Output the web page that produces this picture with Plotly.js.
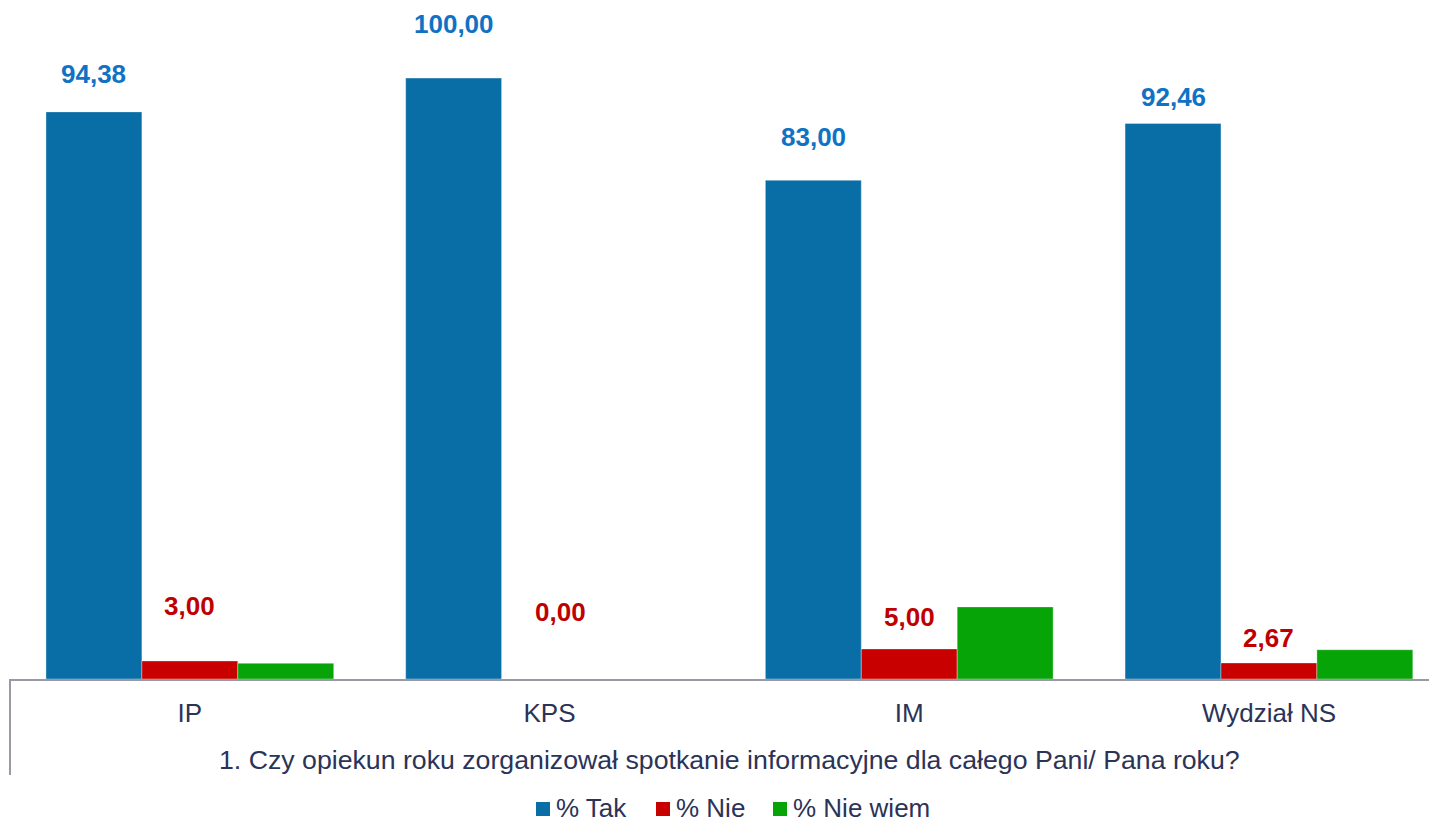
<!DOCTYPE html>
<html>
<head>
<meta charset="utf-8">
<script src="https://cdn.plot.ly/plotly-3.0.1.min.js"></script>
<style>html,body{margin:0;padding:0;background:#fff;}#chart{width:1429px;height:825px;}</style>
</head>
<body>
<div id="chart"></div>
<script>
const categories = ["IP", "KPS", "IM", "Wydział NS"];
const seriesNames = ["% Tak", "% Nie", "% Nie wiem"];
const tak = [94.38, 100.00, 83.00, 92.46];
const nie = [3.00, 0.00, 5.00, 2.67];
const nieWiem = [2.62, 0.00, 12.00, 4.87];
const questionTitle = "1. Czy opiekun roku zorganizował spotkanie informacyjne dla całego Pani/ Pana roku?";

const colors = ["#096ea5", "#c80000", "#06a406"];
const labelColors = ["#1072c4", "#c00000"];
// label vertical offsets (px) above bar top, as placed in the original
const takLabelShift = [38, 54, 43, 26];
const nieLabelShift = [55, 67, 32, 25];

const FONT = "Liberation Sans, Arial, sans-serif";
const textColor = "#2b3357";

// plot area geometry (pixels)
const W = 1429, H = 825, ML = 10, MT = 0, MB = 146;
const PW = W - ML, PH = H - MT - MB;
const px2paperX = p => (p - ML) / PW;
const px2paperY = p => (MT + PH - p) / PH;

const traces = [tak, nie, nieWiem].map((vals, i) => ({
  type: "bar",
  name: seriesNames[i],
  x: categories,
  y: vals,
  marker: {color: colors[i], line: {width: 1, color: "rgba(255,255,255,0.35)"}},
  hoverinfo: "x+y+name",
  showlegend: false
}));

const fmt = v => v.toFixed(2).replace(".", ",");
const annotations = [];
const shapes = [];
const barOffset = 0.8 / 3;
categories.forEach((c, i) => {
  annotations.push({
    x: i - barOffset, y: tak[i], xref: "x", yref: "y",
    text: "<b>" + fmt(tak[i]) + "</b>", showarrow: false,
    yanchor: "middle", xanchor: "center", yshift: takLabelShift[i],
    font: {family: FONT, size: 26, color: labelColors[0]}
  });
  annotations.push({
    x: i + (i === 1 ? 0.03 : 0), y: nie[i], xref: "x", yref: "y",
    text: "<b>" + fmt(nie[i]) + "</b>", showarrow: false,
    yanchor: "middle", xanchor: "center", yshift: nieLabelShift[i],
    font: {family: FONT, size: 26, color: labelColors[1]}
  });
});
annotations.push({
  x: 1.5, xref: "x", y: px2paperY(760), yref: "paper",
  text: questionTitle, showarrow: false, yanchor: "middle", xanchor: "center",
  font: {family: FONT, size: 26.7, color: textColor}
});

// custom legend (square swatches + text), laid out like the original
const legendSwatchX = [536, 656, 773];
const legendY = 808, sw = 14;
seriesNames.forEach((name, i) => {
  shapes.push({
    type: "rect", xref: "paper", yref: "paper",
    x0: px2paperX(legendSwatchX[i]), x1: px2paperX(legendSwatchX[i] + sw),
    y0: px2paperY(legendY + 1 - sw / 2), y1: px2paperY(legendY + 1 + sw / 2),
    fillcolor: colors[i], line: {width: 0}
  });
  annotations.push({
    x: px2paperX(legendSwatchX[i] + sw + 5), xref: "paper",
    y: px2paperY(legendY), yref: "paper",
    text: name, showarrow: false, xanchor: "left", yanchor: "middle", borderpad: 0,
    font: {family: FONT, size: 26, color: textColor}
  });
});

shapes.push({
  type: "line", xref: "paper", yref: "paper",
  x0: 0, x1: 0, y0: 0, y1: px2paperY(775),
  line: {color: "#9a9aa6", width: 2}
});

const layout = {
  width: W, height: H,
  margin: {l: ML, r: 0, t: MT, b: MB, autoexpand: false},
  paper_bgcolor: "#fff", plot_bgcolor: "#fff",
  barmode: "group", bargap: 0.2, bargroupgap: 0,
  font: {family: FONT, color: textColor},
  xaxis: {
    type: "category",
    range: [-0.5, 3.445],
    showline: true, linecolor: "#9a9aa6", linewidth: 2,
    ticks: "", showgrid: false, zeroline: false, automargin: false,
    tickfont: {family: FONT, size: 26, color: textColor},
    ticklabelstandoff: 10
  },
  yaxis: {
    range: [0, 113], visible: false, showgrid: false, zeroline: false, automargin: false
  },
  showlegend: false,
  shapes: shapes,
  annotations: annotations
};

Plotly.newPlot("chart", traces, layout, {displayModeBar: false, staticPlot: true});
</script>
</body>
</html>
